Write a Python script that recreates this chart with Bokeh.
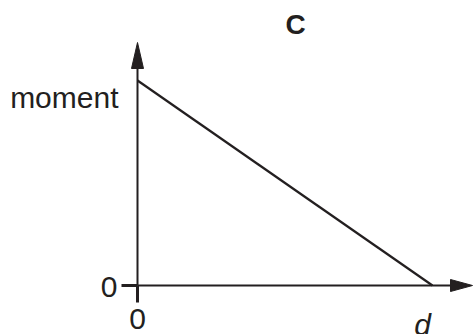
from bokeh.plotting import figure
from bokeh.models import Label
from bokeh.core.properties import value
from bokeh.embed import file_html
from bokeh.resources import INLINE

# ---- data ----
title_text = "C"
distance = [0.0, 1.0]          # from 0 to d
moment = [1.0, 0.0]            # moment falls linearly to zero at d
x_tick_values = [0.0, 1.0]
x_tick_labels = ["0", "d"]
y_tick_values = [0.0, 1.0]
y_tick_labels = ["0", "moment"]

# ---- layout ----
W, H = 473, 334
PX_X, PX_Y = 295.0, 205.0      # pixels per data unit
OX, OY = 137.0, 285.0          # canvas pixel of the origin (from left / from top)

def dx(px):
    return px / PX_X

def dy(px):
    return px / PX_Y

INK = "#231f20"
FONT_NAME = "Liberation Sans"
FONT = value(FONT_NAME)
FS = "30px"

p = figure(width=W, height=H, output_backend="svg", toolbar_location=None,
           x_range=(-OX / PX_X, (W - OX) / PX_X),
           y_range=(-(H - OY) / PX_Y, OY / PX_Y),
           min_border=0, outline_line_color=None,
           background_fill_color="white", border_fill_color="white")
p.axis.visible = False
p.grid.visible = False

# axes (with arrow heads)
y_top = dy(243)
x_end = dx(335)
head_len_y, head_len_x, head_w = 26, 22, 12
p.segment(x0=[0, 0], y0=[0, 0],
          x1=[0, x_end - dx(head_len_x)], y1=[y_top - dy(head_len_y), 0],
          line_color=INK, line_width=2)
p.patch([-dx(head_w / 2), dx(head_w / 2), 0], [y_top - dy(head_len_y)] * 2 + [y_top],
        fill_color=INK, line_color=INK, line_width=1)
p.patch([x_end - dx(head_len_x)] * 2 + [x_end], [dy(head_w / 2), -dy(head_w / 2), 0],
        fill_color=INK, line_color=INK, line_width=1)

# ticks at the origin
p.segment(x0=[-dx(16), x_tick_values[0]], y0=[y_tick_values[0], 0],
          x1=[0, x_tick_values[0]], y1=[y_tick_values[0], -dy(17)],
          line_color=INK, line_width=3)

# the moment line
p.line(distance, moment, line_color=INK, line_width=2.2)

# tick labels
p.text(x=[0], y=[y_tick_values[0]], text=[y_tick_labels[0]], text_font=FONT,
       text_font_size=FS, text_color=INK, text_align="right",
       text_baseline="alphabetic", x_offset=-20, y_offset=1)
p.text(x=[0], y=[y_tick_values[1]], text=[y_tick_labels[1]], text_font=FONT,
       text_font_size=FS, text_color=INK, text_align="right",
       text_baseline="alphabetic", x_offset=-19, y_offset=17)
p.text(x=[x_tick_values[0]], y=[0], text=[x_tick_labels[0]], text_font=FONT,
       text_font_size=FS, text_color=INK, text_align="center",
       text_baseline="alphabetic", x_offset=0, y_offset=33)
p.text(x=[x_tick_values[1]], y=[0], text=[x_tick_labels[1]], text_font=FONT,
       text_font_size=FS, text_font_style="italic", text_color=INK,
       text_align="center", text_baseline="alphabetic", x_offset=-10, y_offset=39)

# title
p.add_layout(Label(x=295, y=H - 24, x_units="screen", y_units="screen",
                   text=title_text, text_font=FONT_NAME, text_font_size="28px",
                   text_font_style="bold", text_color=INK, text_align="center",
                   text_baseline="alphabetic"))

open("out.html", "w").write(file_html(p, INLINE))
